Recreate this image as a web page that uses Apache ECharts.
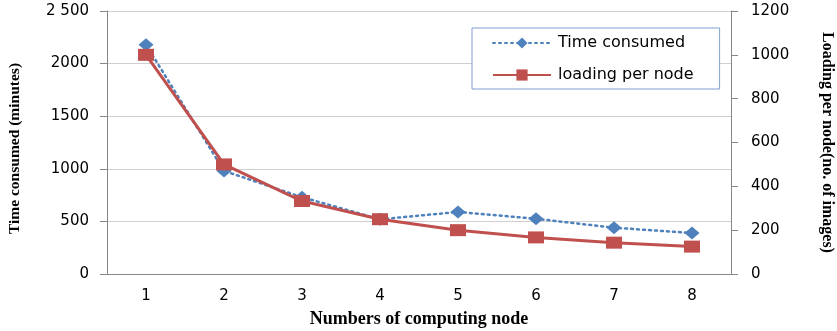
<!DOCTYPE html>
<html><head><meta charset="utf-8">
<script src="https://cdn.jsdelivr.net/npm/echarts@6/dist/echarts.min.js"></script>
<style>html,body{margin:0;padding:0;background:#fff}#c{width:837px;height:331px}</style>
</head><body><div id="c"></div>
<script>
const categories = ['1','2','3','4','5','6','7','8'];
const timeConsumed = [2180, 980, 730, 520, 590, 525, 440, 390];
const loadingPerNode = [1000, 500, 333, 250, 200, 167, 143, 125];
const leftTickLabels = {0:'0',500:'500',1000:'1000',1500:'1500',2000:'2000',2500:'2 500'};
const rightTickLabels = {0:'0',200:'200',400:'400',600:'600',800:'800',1000:'1000',1200:'1200'};

const chart = echarts.init(document.getElementById('c'));
const tickFont = {fontFamily:'DejaVu Sans', fontSize:15, color:'#000'};
const nameFont = {fontFamily:'Liberation Serif', fontWeight:'bold', fontSize:16, color:'#000'};
chart.setOption({
  animation:false,
  grid:{left:107, right:106, top:11, bottom:57, containLabel:false, outerBoundsMode:'none'},
  legend:{
    left:472, top:28, orient:'vertical',
    padding:[7,26,6,20], itemGap:16, itemWidth:58, itemHeight:14,
    borderColor:'#7f9fcf', borderWidth:1, backgroundColor:'#fff',
    textStyle:{fontFamily:'DejaVu Sans', fontSize:16, color:'#000', padding:[0,0,0,2]},
    data:['Time consumed','loading per node']
  },
  xAxis:{
    type:'category', data:categories, boundaryGap:true,
    axisLine:{lineStyle:{color:'#868686'}}, axisTick:{show:false},
    axisLabel:Object.assign({margin:15}, tickFont),
    name:'Numbers of computing node', nameLocation:'middle', nameGap:36,
    nameTextStyle:Object.assign({}, nameFont, {fontSize:18})
  },
  yAxis:[{
    type:'value', min:0, max:2500, interval:500,
    axisLine:{show:true, lineStyle:{color:'#868686'}},
    axisTick:{show:true, length:7, lineStyle:{color:'#868686'}},
    splitLine:{lineStyle:{color:'#cfcfcf'}},
    axisLabel:Object.assign({margin:18, formatter:v=>leftTickLabels[v]}, tickFont),
    name:'Time consumed (minutes)', nameLocation:'middle', nameGap:84, nameRotate:90,
    nameTextStyle:Object.assign({}, nameFont, {fontSize:15.5, padding:[0,12,0,0]})
  },{
    type:'value', min:0, max:1200, interval:200, position:'right',
    axisLine:{show:true, lineStyle:{color:'#868686'}},
    axisTick:{show:true, length:7, lineStyle:{color:'#868686'}},
    splitLine:{show:false},
    axisLabel:Object.assign({margin:20, formatter:v=>rightTickLabels[v]}, tickFont),
    name:'Loading per node(no. of images)', nameLocation:'middle', nameGap:88, nameRotate:-90,
    nameTextStyle:nameFont
  }],
  series:[{
    name:'Time consumed', type:'line', yAxisIndex:0, data:timeConsumed,
    symbol:'diamond', symbolSize:[15,13],
    itemStyle:{color:'#4f81bd'},
    lineStyle:{color:'#4f81bd', width:2.5, type:[2,4], cap:'round'}
  },{
    name:'loading per node', type:'line', yAxisIndex:1, data:loadingPerNode,
    symbol:'rect', symbolSize:[16,12],
    itemStyle:{color:'#c0504d'},
    lineStyle:{color:'#c0504d', width:3}
  }]
});
</script></body></html>
